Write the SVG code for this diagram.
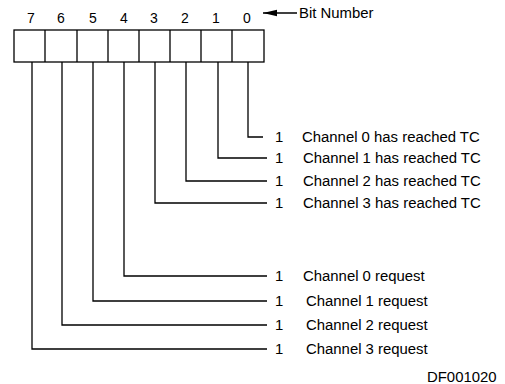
<svg xmlns="http://www.w3.org/2000/svg" width="505" height="384" viewBox="0 0 505 384">
<defs>
<style>
text{font-family:"Liberation Sans",Arial,sans-serif;fill:#000;}
.lbl{font-size:14.9px;}
.num{font-size:14px;text-anchor:middle;}
.ln{stroke:#000;stroke-width:1.3;fill:none;}
</style>
<marker id="ah" markerWidth="14" markerHeight="8" refX="14" refY="4" orient="auto" markerUnits="userSpaceOnUse">
<path d="M14,4 L0,0.8 L0,7.2 Z" fill="#000"/>
</marker>
</defs>
<rect width="505" height="384" fill="#fff"/>
<g id="register">
<rect x="14" y="30" width="250" height="32" class="ln" stroke-width="1.6"/>
<path class="ln" d="M45,30V62M77,30V62M108,30V62M139,30V62M170,30V62M201,30V62M232,30V62"/>
</g>
<g id="bitnumbers">
<text class="num" x="31" y="23">7</text>
<text class="num" x="61" y="23">6</text>
<text class="num" x="93" y="23">5</text>
<text class="num" x="124" y="23">4</text>
<text class="num" x="154" y="23">3</text>
<text class="num" x="185" y="23">2</text>
<text class="num" x="216" y="23">1</text>
<text class="num" x="247" y="23">0</text>
</g>
<g id="bitnumber-label">
<line x1="297" y1="13" x2="263" y2="13" class="ln" marker-end="url(#ah)"/>
<text class="lbl" x="299" y="18">Bit Number</text>
</g>
<g id="connectors">
<path class="ln" d="M248,62V137H263"/>
<path class="ln" d="M218,62V158H267"/>
<path class="ln" d="M186,62V181H267"/>
<path class="ln" d="M155,62V203H267"/>
<path class="ln" d="M124,62V276H267"/>
<path class="ln" d="M93,62V301H267"/>
<path class="ln" d="M62,62V325H267"/>
<path class="ln" d="M32,62V349H267"/>
</g>
<g id="bit0"><text class="lbl" x="275" y="142">1</text><text class="lbl" x="302" y="142">Channel 0 has reached TC</text></g>
<g id="bit1"><text class="lbl" x="275" y="163">1</text><text class="lbl" x="303" y="163">Channel 1 has reached TC</text></g>
<g id="bit2"><text class="lbl" x="275" y="186">1</text><text class="lbl" x="303" y="186">Channel 2 has reached TC</text></g>
<g id="bit3"><text class="lbl" x="275" y="208">1</text><text class="lbl" x="303" y="208">Channel 3 has reached TC</text></g>
<g id="bit4"><text class="lbl" x="275" y="281">1</text><text class="lbl" x="303" y="281">Channel 0 request</text></g>
<g id="bit5"><text class="lbl" x="275" y="306">1</text><text class="lbl" x="306" y="306">Channel 1 request</text></g>
<g id="bit6"><text class="lbl" x="275" y="330">1</text><text class="lbl" x="306" y="330">Channel 2 request</text></g>
<g id="bit7"><text class="lbl" x="275" y="354">1</text><text class="lbl" x="306" y="354">Channel 3 request</text></g>
<text class="lbl" x="427" y="382" font-size="15.5px">DF001020</text>
</svg>
